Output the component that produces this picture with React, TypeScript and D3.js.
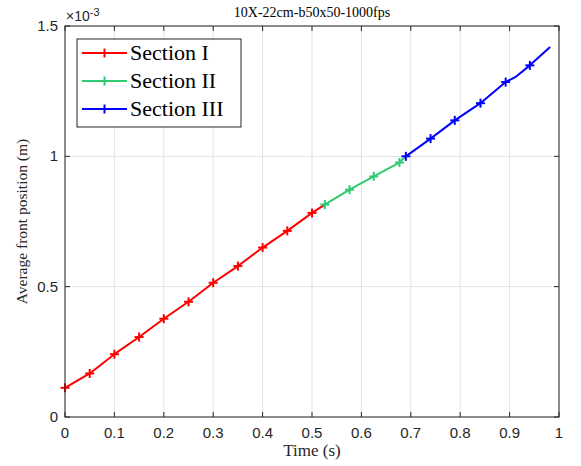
import React from "react";
import * as d3 from "d3";

const W = 581, H = 466;
const title = "10X-22cm-b50x50-1000fps";
const xTicks = [0, 0.1, 0.2, 0.3, 0.4, 0.5, 0.6, 0.7, 0.8, 0.9, 1];
const xTickLabels = ["0", "0.1", "0.2", "0.3", "0.4", "0.5", "0.6", "0.7", "0.8", "0.9", "1"];
const yTicks = [0, 0.5, 1, 1.5];
const yTickLabels = ["0", "0.5", "1", "1.5"];

const sec1Time = [0, 0.05, 0.1, 0.15, 0.2, 0.25, 0.3, 0.35, 0.4, 0.45, 0.5, 0.526];
const sec1Pos = [0.112, 0.167, 0.241, 0.307, 0.377, 0.442, 0.515, 0.579, 0.65, 0.714, 0.783, 0.815];
const sec1Markers = [0, 1, 2, 3, 4, 5, 6, 7, 8, 9, 10];

const sec2Time = [0.526, 0.576, 0.625, 0.677, 0.69];
const sec2Pos = [0.815, 0.872, 0.923, 0.976, 1.0];
const sec2Markers = [0, 1, 2, 3];

const sec3Time = [0.69, 0.74, 0.789, 0.841, 0.892, 0.914, 0.941, 0.982];
const sec3Pos = [1.0, 1.068, 1.138, 1.204, 1.285, 1.307, 1.349, 1.419];
const sec3Markers = [0, 1, 2, 3, 4, 6];

const seriesNames = ["Section I", "Section II", "Section III"];
const seriesColors = ["#ff0000", "#2ecc71", "#0000ff"];

export default function App() {
  const left = 65, right = 559, top = 26, bottom = 417;
  const x = d3.scaleLinear().domain([0, 1]).range([left, right]);
  const y = d3.scaleLinear().domain([0, 1.5]).range([bottom, top]);
  const line = d3.line<[number, number]>().x(d => x(d[0])).y(d => y(d[1]));

  const series = [
    { t: sec1Time, v: sec1Pos, m: sec1Markers },
    { t: sec2Time, v: sec2Pos, m: sec2Markers },
    { t: sec3Time, v: sec3Pos, m: sec3Markers },
  ];

  const axisColor = "#262626";
  const gridColor = "#e3e3e3";
  const tickLen = 5;
  const ms = 4.5;
  const sans = "Liberation Sans, Arial, sans-serif";
  const serif = "Liberation Serif, Times New Roman, serif";

  return (
    <svg width={W} height={H} style={{ position: "absolute", left: 0, top: 0, background: "#fff" }}>
      <rect x={0} y={0} width={W} height={H} fill="#fff" />
      {xTicks.map((t, i) => (
        <line key={"gx" + i} x1={x(t)} x2={x(t)} y1={top} y2={bottom} stroke={gridColor} strokeWidth={1} />
      ))}
      {yTicks.map((t, i) => (
        <line key={"gy" + i} x1={left} x2={right} y1={y(t)} y2={y(t)} stroke={gridColor} strokeWidth={1} />
      ))}
      {series.map((s, si) => {
        const pts = s.t.map((t, i) => [t, s.v[i]] as [number, number]);
        return (
          <g key={"s" + si}>
            <path d={line(pts) || ""} fill="none" stroke={seriesColors[si]} strokeWidth={2} strokeLinejoin="round" />
            {s.m.map(idx => {
              const cx = x(s.t[idx]), cy = y(s.v[idx]);
              return (
                <g key={"m" + idx} stroke={seriesColors[si]} strokeWidth={2}>
                  <line x1={cx - ms} x2={cx + ms} y1={cy} y2={cy} />
                  <line x1={cx} x2={cx} y1={cy - ms} y2={cy + ms} />
                </g>
              );
            })}
          </g>
        );
      })}
      <rect x={left} y={top} width={right - left} height={bottom - top} fill="none" stroke={axisColor} strokeWidth={1} />
      {xTicks.map((t, i) => (
        <g key={"xt" + i}>
          <line x1={x(t)} x2={x(t)} y1={bottom} y2={bottom - tickLen} stroke={axisColor} />
          <line x1={x(t)} x2={x(t)} y1={top} y2={top + tickLen} stroke={axisColor} />
          <text x={x(t)} y={bottom + 21} textAnchor="middle" fontFamily={sans} fontSize={15} fill={axisColor}>
            {xTickLabels[i]}
          </text>
        </g>
      ))}
      {yTicks.map((t, i) => (
        <g key={"yt" + i}>
          <line x1={left} x2={left + tickLen} y1={y(t)} y2={y(t)} stroke={axisColor} />
          <line x1={right} x2={right - tickLen} y1={y(t)} y2={y(t)} stroke={axisColor} />
          <text x={left - 7} y={y(t) + 5} textAnchor="end" fontFamily={sans} fontSize={15} fill={axisColor}>
            {yTickLabels[i]}
          </text>
        </g>
      ))}
      <text x={66} y={21} fontFamily={sans} fontSize={14} fill={axisColor}>
        ×10<tspan dy={-5} fontSize={11}>-3</tspan>
      </text>
      <text x={(left + right) / 2} y={17} textAnchor="middle" fontFamily={serif} fontSize={14} fill="#000">
        {title}
      </text>
      <text x={(left + right) / 2} y={456} textAnchor="middle" fontFamily={serif} fontSize={17} fill={axisColor}>
        Time (s)
      </text>
      <text transform={`translate(27,${(top + bottom) / 2}) rotate(-90)`} textAnchor="middle" fontFamily={serif} fontSize={15.5} fill={axisColor}>
        Average front position (m)
      </text>
      <rect x={77} y={39} width={164} height={88} fill="#fff" stroke={axisColor} strokeWidth={1} />
      {seriesNames.map((n, i) => {
        const ly = 53 + i * 28;
        return (
          <g key={"lg" + i}>
            <line x1={82} x2={127} y1={ly} y2={ly} stroke={seriesColors[i]} strokeWidth={2} />
            <line x1={104.5} x2={104.5} y1={ly - ms} y2={ly + ms} stroke={seriesColors[i]} strokeWidth={2} />
            <text x={130} y={ly + 7} fontFamily={serif} fontSize={22} fill="#000">
              {n}
            </text>
          </g>
        );
      })}
    </svg>
  );
}
